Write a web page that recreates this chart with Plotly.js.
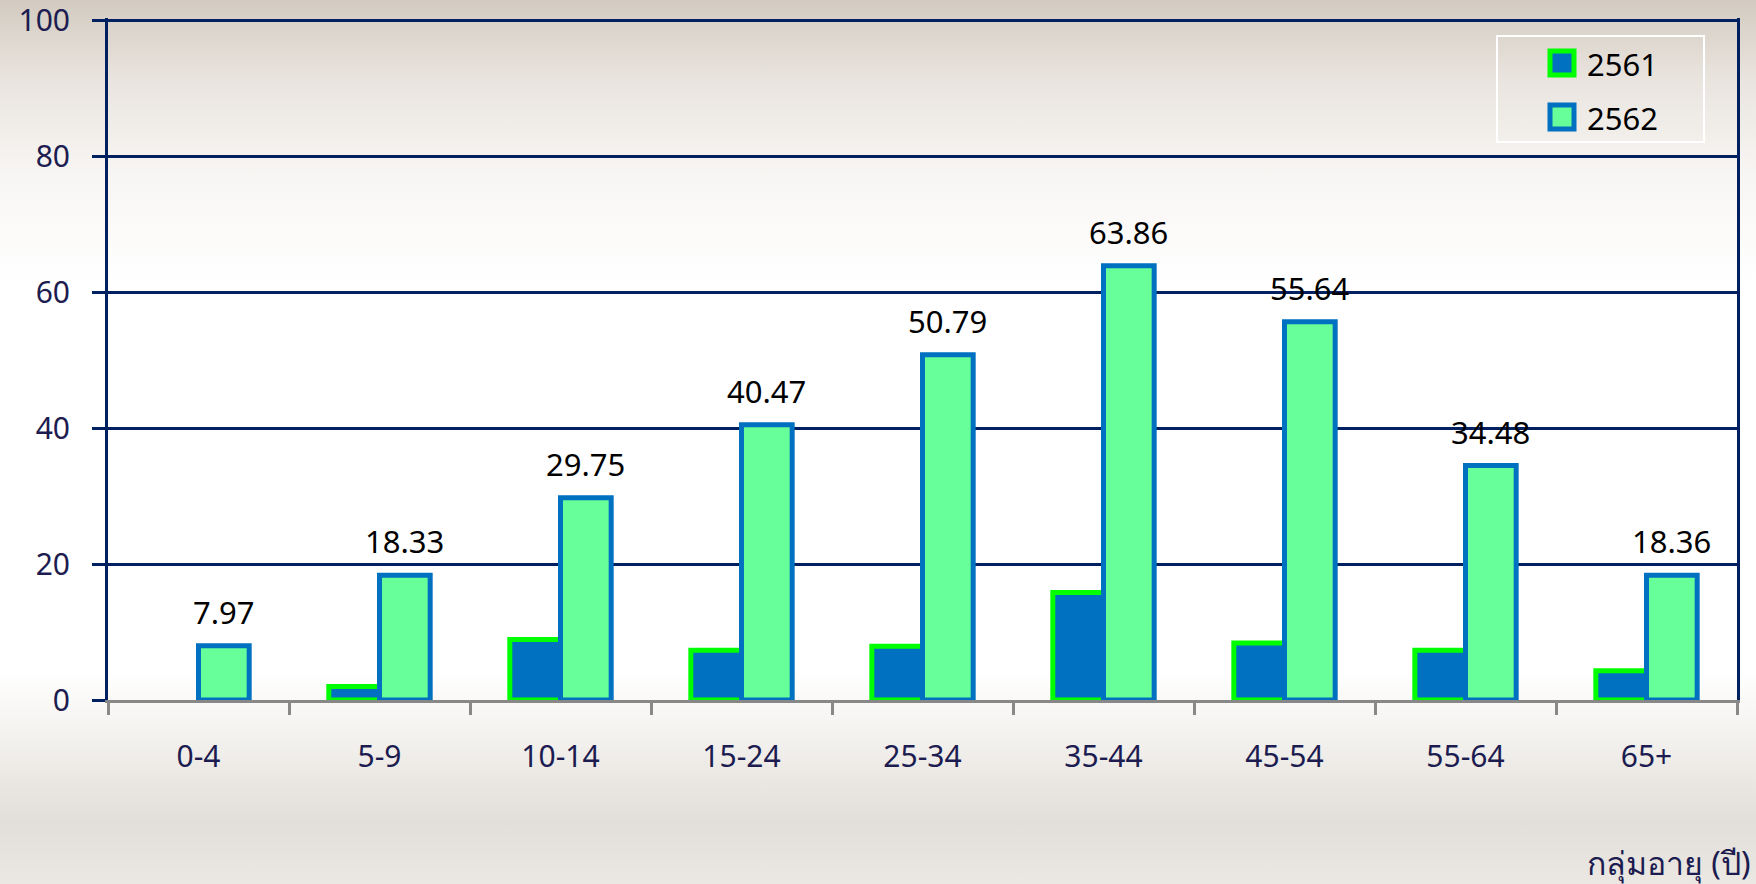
<!DOCTYPE html>
<html>
<head>
<meta charset="utf-8">
<script src="https://cdn.plot.ly/plotly-3.0.1.min.js"></script>
<style>
  html, body { margin: 0; padding: 0; }
  body {
    width: 1756px; height: 884px;
    background: linear-gradient(to bottom, #d3cbc1 0%, #e9e4de 9%, #f8f6f4 20%, #ffffff 32%, #ffffff 76%, #f4f2ef 83%, #e2ded9 93%, #ebe8e4 100%);
  }
  #chart { width: 1756px; height: 884px; }
</style>
</head>
<body>
<div id="chart"></div>
<script>
// กลุ่มอายุ
const ageGroups = ['0-4', '5-9', '10-14', '15-24', '25-34', '35-44', '45-54', '55-64', '65+'];

// อัตราป่วย ปี 2561 (อ่านจากภาพ, 0-4 ไม่มีแท่ง)
const rate2561 = [null, 2.0, 8.9, 7.3, 7.9, 15.8, 8.4, 7.3, 4.3];
// อัตราป่วย ปี 2562
const rate2562 = [7.97, 18.33, 29.75, 40.47, 50.79, 63.86, 55.64, 34.48, 18.36];

const seriesNames = ['2561', '2562'];
const fillColors = ['#0070c0', '#66ff99'];
const lineColors = ['#00ff00', '#0070c0'];

const navy = '#002060';
const textNavy = '#1c1c50';
const fontFam = '"Noto Sans", Tahoma, "DejaVu Sans", sans-serif';

const W = 1756, H = 884;
const mL = 108, mR = 19, mT = 18, mB = 184;
const yMax = 100.3;
const bargap = 0.44;

const data = [rate2561, rate2562].map((vals, i) => ({
    name: seriesNames[i],
    x: ageGroups,
    y: vals,
    type: 'bar',
    marker: { color: fillColors[i], line: { color: lineColors[i], width: 5 } },
    showlegend: false
}));

// ป้ายค่าเหนือแท่งปี 2562 (เลื่อนไปทางขวาครึ่งแท่ง)
const plotW = W - mL - mR, plotH = H - mT - mB;
const catPx = plotW / ageGroups.length;
const barPx = catPx * (1 - bargap) / 2;
const annotations = ageGroups.map((g, i) => ({
    x: g,
    y: rate2562[i],
    xref: 'x', yref: 'y',
    text: rate2562[i].toFixed(2),
    showarrow: false,
    xshift: barPx / 2,
    yshift: 34,
    yanchor: 'middle',
    font: { size: 31, color: '#000000', family: fontFam }
}));

// pixel -> paper
const px = v => (v - mL) / plotW;
const py = v => (H - mB - v) / plotH;

annotations.push({
    text: 'กลุ่มอายุ (ปี)',
    xref: 'paper', yref: 'paper',
    x: px(1753), y: py(862),
    xanchor: 'right', yanchor: 'middle',
    showarrow: false,
    font: { size: 32, color: textNavy, family: fontFam }
});

// legend แบบกล่อง (ทำเองให้สัญลักษณ์ใหญ่เท่าต้นฉบับ)
const shapes = [{
    type: 'rect', xref: 'paper', yref: 'paper',
    x0: px(1497), x1: px(1704), y0: py(142), y1: py(36),
    line: { color: '#ffffff', width: 2 }, fillcolor: 'rgba(0,0,0,0)'
}];
seriesNames.forEach((name, i) => {
    const cy = 63 + i * 54;
    shapes.push({
        type: 'rect', xref: 'paper', yref: 'paper',
        x0: px(1550), x1: px(1574), y0: py(cy + 12), y1: py(cy - 12),
        fillcolor: fillColors[i],
        line: { color: lineColors[i], width: 5 }
    });
    annotations.push({
        text: name, xref: 'paper', yref: 'paper',
        x: px(1585), y: py(cy + 1),
        xanchor: 'left', yanchor: 'middle', showarrow: false,
        font: { size: 31, color: '#000000', family: fontFam }
    });
});

const layout = {
    width: W,
    height: H,
    margin: { l: mL, r: mR, t: mT, b: mB },
    paper_bgcolor: 'rgba(0,0,0,0)',
    plot_bgcolor: 'rgba(0,0,0,0)',
    barmode: 'group',
    bargap: bargap,
    bargroupgap: 0,
    showlegend: false,
    font: { family: fontFam, size: 30, color: textNavy },
    xaxis: {
        type: 'category',
        showline: true,
        linecolor: '#888888',
        linewidth: 3,
        ticks: 'outside',
        tickson: 'boundaries',
        ticklen: 12,
        tickwidth: 3,
        tickcolor: '#888888',
        ticklabelstandoff: 28,
        tickfont: { size: 30, color: textNavy },
        showgrid: false,
        zeroline: false
    },
    yaxis: {
        range: [0, yMax],
        tickvals: [0, 20, 40, 60, 80, 100],
        showline: true,
        mirror: true,
        linecolor: navy,
        linewidth: 3,
        gridcolor: navy,
        gridwidth: 2.5,
        ticks: 'outside',
        ticklen: 13,
        tickwidth: 2.5,
        tickcolor: navy,
        ticklabelstandoff: 16,
        ticklabeloverflow: 'allow',
        tickfont: { size: 30, color: textNavy },
        zeroline: false
    },
    shapes: shapes,
    annotations: annotations
};

Plotly.newPlot('chart', data, layout, { displayModeBar: false });
</script>
</body>
</html>
